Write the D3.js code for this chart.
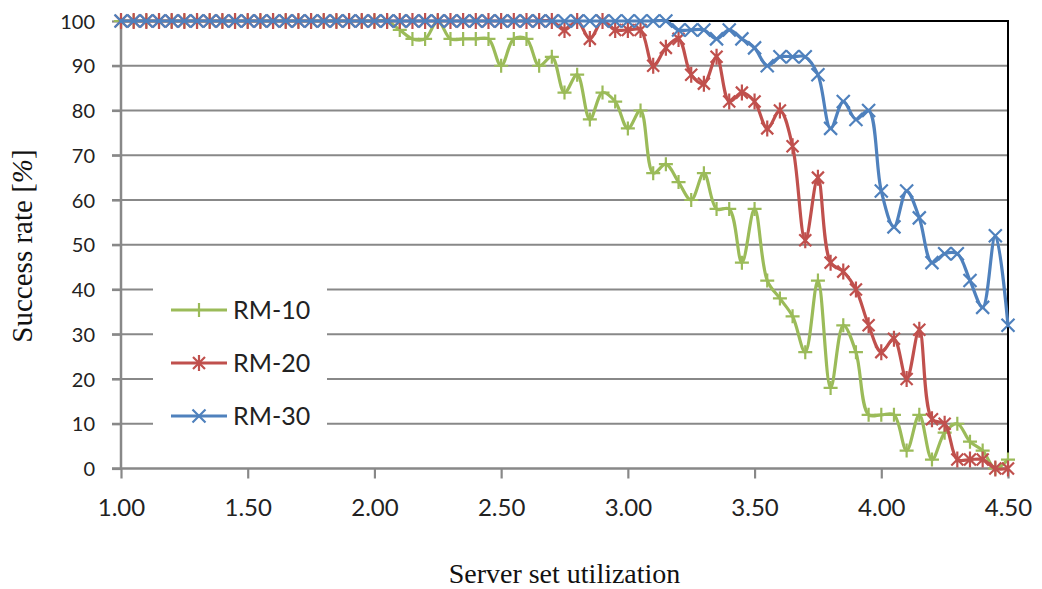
<!DOCTYPE html>
<html lang="en">
<head>
    <meta charset="UTF-8">
    <title>Success rate vs server set utilization</title>
    <script src="https://d3js.org/d3.v7.min.js"></script>
    <style>
        body {
            margin: 0;
            padding: 0;
            background: #fff;
        }
        .tickY {
            font-family: Lato, sans-serif;
            font-size: 20px;
            fill: #222;
        }
        .tickX {
            font-family: Lato, sans-serif;
            font-size: 24px;
            fill: #222;
        }
        .legendText {
            font-family: Lato, sans-serif;
            font-size: 25px;
            fill: #222;
        }
        .axisTitle {
            font-family: "Liberation Serif", "Times New Roman", serif;
            font-size: 28px;
            fill: #111;
        }
    </style>
</head>
<body>
<div id="canvas"></div>
<script>
    // utilization steps 1.00 .. 4.50 (0.05 apart)
    var utilization = d3.range(71).map(function(i) { return +(1 + i * 0.05).toFixed(2); });

    var rm10 = [100, 100, 100, 100, 100, 100, 100, 100, 100, 100,
                100, 100, 100, 100, 100, 100, 100, 100, 100, 100,
                100, 100, 98, 96, 96, 100, 96, 96, 96, 96,
                90, 96, 96, 90, 92, 84, 88, 78, 84, 82,
                76, 80, 66, 68, 64, 60, 66, 58, 58, 46,
                58, 42, 38, 34, 26, 42, 18, 32, 26, 12,
                12, 12, 4, 12, 2, 8, 10, 6, 4, 0,
                2];

    var rm20 = [100, 100, 100, 100, 100, 100, 100, 100, 100, 100,
                100, 100, 100, 100, 100, 100, 100, 100, 100, 100,
                100, 100, 100, 100, 100, 100, 100, 100, 100, 100,
                100, 100, 100, 100, 100, 98, 100, 96, 100, 98,
                98, 98, 90, 94, 96, 88, 86, 92, 82, 84,
                82, 76, 80, 72, 51, 65, 46, 44, 40, 32,
                26, 29, 20, 31, 11, 10, 2, 2, 2, 0,
                0];

    var rm30 = [100, 100, 100, 100, 100, 100, 100, 100, 100, 100,
                100, 100, 100, 100, 100, 100, 100, 100, 100, 100,
                100, 100, 100, 100, 100, 100, 100, 100, 100, 100,
                100, 100, 100, 100, 100, 100, 100, 100, 100, 100,
                100, 100, 100, 100, 98, 98, 98, 96, 98, 96,
                94, 90, 92, 92, 92, 88, 76, 82, 78, 80,
                62, 54, 62, 56, 46, 48, 48, 42, 36, 52,
                32];

    var seriesNames = ["RM-10", "RM-20", "RM-30"];
    var seriesColors = ["#9bbb59", "#c0504d", "#4f81bd"];
    var seriesMarkers = ["plus", "star", "cross"];
    var xTicks = [1.0, 1.5, 2.0, 2.5, 3.0, 3.5, 4.0, 4.5];
    var yTicks = [0, 10, 20, 30, 40, 50, 60, 70, 80, 90, 100];

    var width = 1042, height = 589;
    var plot = {left: 121, right: 1008, top: 21, bottom: 468.5};

    var svg = d3.select("#canvas")
        .append("svg")
        .attr("width", width)
        .attr("height", height);

    var x = d3.scaleLinear().domain([1, 4.5]).range([plot.left, plot.right]);
    var y = d3.scaleLinear().domain([0, 100]).range([plot.bottom, plot.top]);

    // horizontal gridlines (they also make the left tick marks)
    svg.append("g")
        .selectAll("line")
        .data(yTicks.filter(function(d) { return d > 0 && d < 100; }))
        .join("line")
        .attr("x1", plot.left - 9)
        .attr("x2", plot.right)
        .attr("y1", function(d) { return y(d); })
        .attr("y2", function(d) { return y(d); })
        .style("stroke", "#888")
        .style("stroke-width", 2.2);

    // black plot border (top and right)
    svg.append("path")
        .attr("d", "M" + plot.left + "," + plot.top + "H" + plot.right + "V" + plot.bottom)
        .style("fill", "none")
        .style("stroke", "#000")
        .style("stroke-width", 2);

    // y axis
    var yAxis = svg.append("g")
        .attr("transform", "translate(" + plot.left + ",0)")
        .call(d3.axisLeft(y).tickValues(yTicks).tickSize(9).tickPadding(17));
    yAxis.select(".domain").remove();
    yAxis.selectAll("line").style("stroke", "#888").style("stroke-width", 2.2);
    yAxis.selectAll("text").attr("class", "tickY").attr("font-family", null).attr("font-size", null)
        .attr("dy", "0.36em");
    yAxis.append("line")
        .attr("x1", 0).attr("x2", 0)
        .attr("y1", plot.top).attr("y2", plot.bottom)
        .style("stroke", "#888")
        .style("stroke-width", 2.5);

    // x axis
    var xAxis = svg.append("g")
        .attr("transform", "translate(0," + plot.bottom + ")")
        .call(d3.axisBottom(x).tickValues(xTicks).tickFormat(d3.format(".2f")).tickSize(10).tickPadding(20));
    xAxis.select(".domain").remove();
    xAxis.selectAll("line").style("stroke", "#888").style("stroke-width", 2.2);
    xAxis.selectAll("text").attr("class", "tickX").attr("font-family", null).attr("font-size", null);
    xAxis.append("line")
        .attr("x1", plot.left - 9).attr("x2", plot.right)
        .attr("y1", 0).attr("y2", 0)
        .style("stroke", "#888")
        .style("stroke-width", 2.5);

    // marker shapes
    function markerPath(kind) {
        if (kind === "plus") return "M-7,0H7M0,-7V7";
        if (kind === "cross") return "M-6.5,-6.5L6.5,6.5M-6.5,6.5L6.5,-6.5";
        return "M-6,-6L6,6M-6,6L6,-6M0,-8V8";
    }

    var line = d3.line()
        .x(function(d) { return x(d.u); })
        .y(function(d) { return y(d.v); })
        .curve(d3.curveCatmullRom.alpha(0.5));

    [rm10, rm20, rm30].forEach(function(values, k) {
        var data = values.map(function(v, i) { return {u: utilization[i], v: v}; });
        var g = svg.append("g");
        g.append("path")
            .datum(data)
            .attr("d", line)
            .style("fill", "none")
            .style("stroke", seriesColors[k])
            .style("stroke-width", 3.2);
        g.selectAll("path.mark")
            .data(data)
            .join("path")
            .attr("class", "mark")
            .attr("transform", function(d) { return "translate(" + x(d.u) + "," + y(d.v) + ")"; })
            .attr("d", markerPath(seriesMarkers[k]))
            .style("fill", "none")
            .style("stroke", seriesColors[k])
            .style("stroke-width", 2.2);
    });

    // legend
    var legend = svg.append("g");
    legend.append("rect")
        .attr("x", 153).attr("y", 283)
        .attr("width", 174).attr("height", 155)
        .style("fill", "#fff");
    seriesNames.forEach(function(name, k) {
        var ly = 310 + k * 53;
        legend.append("line")
            .attr("x1", 171).attr("x2", 227)
            .attr("y1", ly).attr("y2", ly)
            .style("stroke", seriesColors[k])
            .style("stroke-width", 3.2);
        legend.append("path")
            .attr("transform", "translate(199," + ly + ")")
            .attr("d", markerPath(seriesMarkers[k]))
            .style("fill", "none")
            .style("stroke", seriesColors[k])
            .style("stroke-width", 2.2);
        legend.append("text")
            .attr("class", "legendText")
            .attr("x", 233)
            .attr("y", ly)
            .attr("dy", "0.36em")
            .text(name);
    });

    // axis titles
    svg.append("text")
        .attr("class", "axisTitle")
        .attr("x", (plot.left + plot.right) / 2)
        .attr("y", 583)
        .attr("text-anchor", "middle")
        .text("Server set utilization");

    var yTitle = svg.append("text")
        .attr("class", "axisTitle")
        .attr("transform", "translate(32,246) rotate(-90)")
        .attr("text-anchor", "middle")
        .style("font-size", "29px");
    yTitle.append("tspan").text("Success rate [");
    yTitle.append("tspan").style("font-style", "italic").text("%");
    yTitle.append("tspan").text("]");
</script>
</body>
</html>
